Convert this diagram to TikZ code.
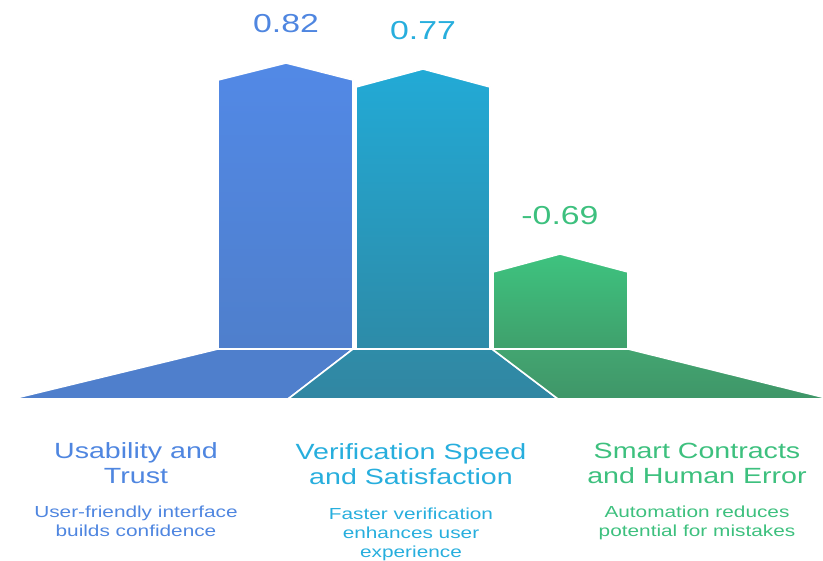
\documentclass[tikz,border=0pt]{standalone}
\usepackage{fontspec}
\setmainfont{Liberation Sans}
\definecolor{bluetop}{HTML}{5289E6}
\definecolor{bluebot}{HTML}{4F7FCC}
\definecolor{cyantop}{HTML}{22AAD6}
\definecolor{cyanbot}{HTML}{2D8BA8}
\definecolor{greentop}{HTML}{3EC37F}
\definecolor{greenbot}{HTML}{3FA06C}
\definecolor{midtop}{HTML}{2F8CA8}
\definecolor{midbot}{HTML}{3186A2}
\definecolor{righttop}{HTML}{43A571}
\definecolor{rightbot}{HTML}{3F9668}
\definecolor{bluetxt}{HTML}{4F86E0}
\definecolor{cyantxt}{HTML}{27AEDD}
\definecolor{greentxt}{HTML}{3DC07E}
\begin{document}
\begin{tikzpicture}[x=1pt, y=1pt,
  piece/.style={draw=white, line width=1.6pt, line join=round},
  val/.style={anchor=base, xscale=1.3, transform shape, font=\fontsize{26}{30}\selectfont},
  ttl/.style={anchor=base, align=center, xscale=1.3, transform shape, font=\fontsize{22}{25}\selectfont},
  dsc/.style={anchor=base, align=center, xscale=1.3, transform shape, font=\fontsize{16}{19}\selectfont}]
\useasboundingbox (0,0) rectangle (823,561);

% bars
\draw [piece, top color=bluetop, bottom color=bluebot] (218,212) -- (218,481) -- (286,498) -- (353,481) -- (353,212) -- cycle;
\draw [piece, top color=cyantop, bottom color=cyanbot] (356,212) -- (356,474) -- (423,492) -- (490,474) -- (490,212) -- cycle;
\draw [piece, top color=greentop, bottom color=greenbot] (493,212) -- (493,289) -- (560,307) -- (628,289) -- (628,212) -- cycle;

% base
\draw [piece, fill=bluebot] (218,212) -- (353,212) -- (288,162) -- (12,162) -- cycle;
\draw [piece, top color=midtop, bottom color=midbot] (353,212) -- (492,212) -- (558,162) -- (288,162) -- cycle;
\draw [piece, top color=righttop, bottom color=rightbot] (492,212) -- (628,212) -- (830,162) -- (558,162) -- cycle;

% values
\node [val, text=bluetxt] (v1) at (286,528) {0.82};
\node [val, text=cyantxt] (v2) at (423,521) {0.77};
\node [val, text=greentxt] (v3) at (560,336) {-0.69};

% titles (base = last line)
\node [ttl, text=bluetxt] (t1) at (136,77) {Usability and\\Trust};
\node [ttl, text=cyantxt] (t2) at (411,76) {Verification Speed\\and Satisfaction};
\node [ttl, text=greentxt] (t3) at (697,77) {Smart Contracts\\and Human Error};

% descriptions
\node [dsc, text=bluetxt] (d1) at (136,24) {User-friendly interface\\builds confidence};
\node [dsc, text=cyantxt] (d2) at (411,3) {Faster verification\\enhances user\\experience};
\node [dsc, text=greentxt] (d3) at (697,24) {Automation reduces\\potential for mistakes};
\end{tikzpicture}
\end{document}
